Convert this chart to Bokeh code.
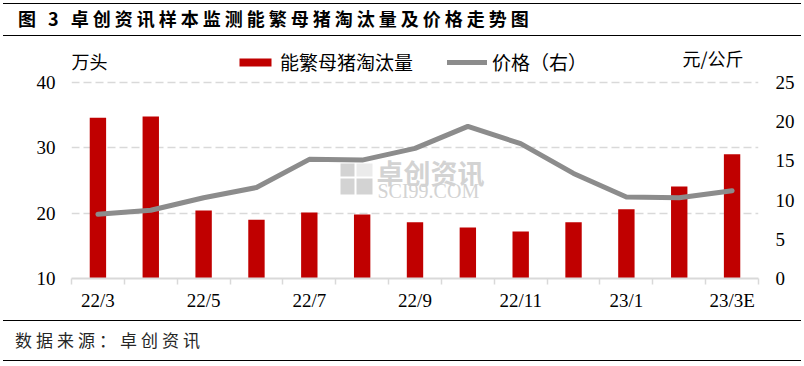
from bokeh.plotting import figure
from bokeh.models import (Range1d, LinearAxis, FixedTicker, Label, Legend,
                          LegendItem, ColumnDataSource, BoxAnnotation, Div)
from bokeh.layouts import column
from bokeh.embed import file_html
from bokeh.resources import INLINE

months = ["22/3", "22/4", "22/5", "22/6", "22/7", "22/8", "22/9", "22/10",
          "22/11", "22/12", "23/1", "23/2", "23/3E"]
culled = [34.6, 34.8, 20.4, 19.0, 20.1, 19.8, 18.6, 17.8, 17.2, 18.6, 20.6, 24.1, 29.0]
price = [8.2, 8.7, 10.3, 11.6, 15.2, 15.1, 16.6, 19.4, 17.2, 13.4, 10.4, 10.3, 11.2]
left_ticks = [10, 20, 30, 40]
right_ticks = [0, 5, 10, 15, 20, 25]

title_text = "图 3 卓创资讯样本监测能繁母猪淘汰量及价格走势图"
source_text = "数据来源：卓创资讯"
bar_name = "能繁母猪淘汰量"
line_name = "价格（右）"
left_unit = "万头"
right_unit = "元/公斤"

CJK = "Noto Sans CJK SC"
NUM = "Liberation Serif"
W = 804

# ---------- header ----------
head = Div(text=('<div style="display:block;margin:3px 0 0 3px;width:798px;height:33px;'
                 'box-sizing:border-box;'
                 'border-top:1.5px solid #000;border-bottom:1.5px solid #000;'
                 'font-family:\'Noto Sans CJK SC\';font-weight:bold;'
                 'font-size:18px;letter-spacing:4px;line-height:28px;padding-left:15px;'
                 'color:black;white-space:nowrap">' + title_text + '</div>'),
           width=W, height=37, margin=0)

# ---------- main chart ----------
# frame spans from the header rule down to the x axis; the value ranges keep
# 10..40 / 0..25 on the lower 196 px, the extra head-room holds legend and units
FRAME_H = 241
PLOT_H = 196
y_top = 10 + 30 * FRAME_H / PLOT_H
p_top = 25 * FRAME_H / PLOT_H

idx = list(range(len(months)))
src = ColumnDataSource(dict(x=idx, culled=culled, price=price))

p = figure(width=W, height=283, x_range=Range1d(-0.5, len(months) - 0.5),
           y_range=Range1d(10, y_top), toolbar_location=None, output_backend="svg",
           min_border_left=71, min_border_right=46, min_border_top=0,
           min_border_bottom=42, outline_line_color=None)
p.extra_y_ranges = {"price": Range1d(0, p_top)}

bars = p.vbar(x="x", top="culled", width=0.31, source=src,
              fill_color="#C00000", line_color=None)
line = p.line(x="x", y="price", source=src, y_range_name="price",
              line_color="#8C8C8C", line_width=5, line_cap="round", line_join="round")

p.xgrid.visible = False
p.ygrid.ticker = FixedTicker(ticks=left_ticks)
p.ygrid.grid_line_color = "#D9D9D9"
p.ygrid.grid_line_dash = "8 4"
p.ygrid.grid_line_width = 1.5

xa = p.xaxis[0]
xa.ticker = FixedTicker(ticks=idx[::2], minor_ticks=[i - 0.5 for i in range(len(months) + 1)])
xa.major_label_overrides = {i: months[i] for i in idx}
xa.major_tick_line_color = None
xa.major_tick_out = 0
xa.major_tick_in = 0
xa.minor_tick_line_color = "#D9D9D9"
xa.minor_tick_line_width = 1.5
xa.minor_tick_out = 6
xa.minor_tick_in = 0
xa.axis_line_color = "#D9D9D9"
xa.axis_line_width = 2
xa.major_label_standoff = 5
xa.major_label_text_font = NUM
xa.major_label_text_font_size = "19px"
xa.major_label_text_color = "black"

ya = p.yaxis[0]
ya.ticker = FixedTicker(ticks=left_ticks)
ya.axis_line_color = None
ya.major_tick_line_color = None
ya.minor_tick_line_color = None
ya.major_tick_out = 0
ya.minor_tick_out = 0
ya.major_label_standoff = 16
ya.major_label_text_font = NUM
ya.major_label_text_font_size = "19px"
ya.major_label_text_color = "black"

ra = LinearAxis(y_range_name="price", ticker=FixedTicker(ticks=right_ticks))
ra.axis_line_color = None
ra.major_tick_line_color = None
ra.minor_tick_line_color = None
ra.major_tick_out = 0
ra.minor_tick_out = 0
ra.major_label_standoff = 17
ra.major_label_text_font = NUM
ra.major_label_text_font_size = "19px"
ra.major_label_text_color = "black"
p.add_layout(ra, "right")

legend = Legend(items=[LegendItem(label=bar_name, renderers=[bars]),
                       LegendItem(label=line_name, renderers=[line])],
                orientation="horizontal", location=(164, 203),
                glyph_width=40, glyph_height=10, label_standoff=5, spacing=34,
                padding=0, margin=0, border_line_color=None,
                background_fill_alpha=0,
                label_text_font=CJK, label_text_font_size="19px",
                label_text_color="black")
p.add_layout(legend)

p.add_layout(Label(x=0, y=218, x_units="screen", y_units="screen", text=left_unit,
                   text_font=CJK, text_font_size="18px", text_baseline="middle",
                   text_color="black"))
p.add_layout(Label(x=611, y=221, x_units="screen", y_units="screen", text=right_unit,
                   text_font=CJK, text_font_size="18px", text_baseline="middle",
                   text_color="black"))

# watermark
wm = "#D3D3D3"
for (l, r, b, t) in [(269, 283, 102, 115), (269, 283, 84, 100), (285, 301, 84, 100)]:
    p.add_layout(BoxAnnotation(left=l, right=r, bottom=b, top=t,
                               left_units="screen", right_units="screen",
                               bottom_units="screen", top_units="screen",
                               fill_color=wm, fill_alpha=1, line_color=None, level="underlay"))
p.add_layout(BoxAnnotation(left=285, right=301, bottom=102, top=115,
                           left_units="screen", right_units="screen",
                           bottom_units="screen", top_units="screen",
                           fill_color=wm, fill_alpha=0.45, line_color=None, level="underlay"))
p.add_layout(Label(x=305, y=106, x_units="screen", y_units="screen", text="卓创资讯",
                   text_font=CJK, text_font_size="27px", text_font_style="bold",
                   text_baseline="middle", text_color=wm, level="underlay"))
p.add_layout(Label(x=306, y=88, x_units="screen", y_units="screen", text="SCI99.COM",
                   text_font=NUM, text_font_size="20px",
                   text_baseline="middle", text_color=wm, level="underlay"))

# ---------- footer ----------
foot = Div(text=('<div style="display:block;margin:0 0 0 3px;width:798px;height:41px;'
                 'box-sizing:border-box;'
                 'border-top:1.5px solid #000;border-bottom:1.5px solid #000;'
                 'font-family:\'Noto Sans CJK SC\';font-size:17px;'
                 'letter-spacing:4px;line-height:38px;padding-left:12px;'
                 'color:#262626;white-space:nowrap">' + source_text + '</div>'),
           width=W, height=45, margin=0)

layout = column(head, p, foot)
open("out.html", "w").write(file_html(layout, INLINE))
